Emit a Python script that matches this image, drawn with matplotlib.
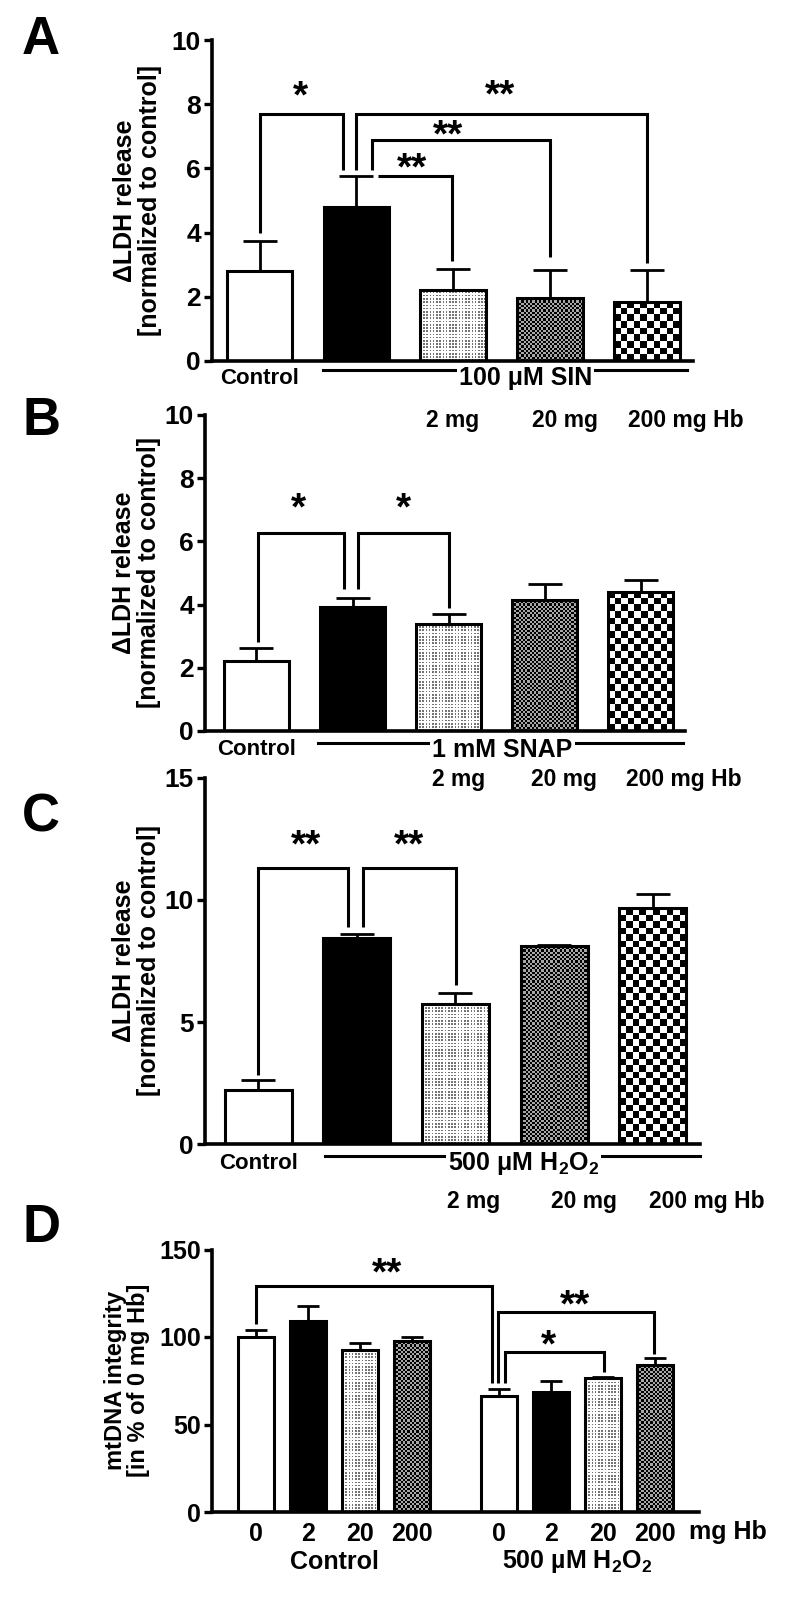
import numpy as np
import matplotlib
matplotlib.use("Agg")
import matplotlib.pyplot as plt

plt.rcParams['font.family'] = ['Liberation Sans', 'DejaVu Sans']
plt.rcParams['font.weight'] = 'bold'
plt.rcParams['mathtext.fontset'] = 'custom'
plt.rcParams['mathtext.rm'] = 'Liberation Sans:bold'
plt.rcParams['mathtext.it'] = 'Liberation Sans:bold'
plt.rcParams['mathtext.bf'] = 'Liberation Sans:bold'

# ---- data ----
ldh_fills = ["white", "black", "light", "dark", "checker"]
dose_labels = ["2 mg", "20 mg", "200 mg Hb"]

a_mean = [2.8, 4.8, 2.2, 1.95, 1.85]
a_sem = [0.95, 0.95, 0.67, 0.88, 0.97]
b_mean = [2.22, 3.92, 3.39, 4.15, 4.4]
b_sem = [0.4, 0.28, 0.31, 0.5, 0.38]
c_mean = [2.21, 8.44, 5.73, 8.12, 9.67]
c_sem = [0.41, 0.16, 0.47, 0.03, 0.57]

d_fills = ["white", "black", "light", "dark"] * 2
d_ticks = ["0", "2", "20", "200", "0", "2", "20", "200"]
d_mean = [100, 109, 92.5, 98, 66.5, 68.5, 76.7, 84]
d_sem = [4, 9, 4, 2, 4, 6.5, 0.6, 3.8]

# significance brackets: (x left, y left, x right, y right, y top, stars, star x, star y)
a_sig = [(0.0, 4.0, 0.86, 5.95, 7.7, "*", 0.42, 8.5),
         (1.0, 5.95, 4.0, 3.05, 7.7, "**", 2.48, 8.55),
         (1.16, 5.95, 3.0, 3.25, 6.9, "**", 1.94, 7.3),
         (1.22, 5.75, 1.98, 3.1, 5.75, "**", 1.57, 6.25)]
b_sig = [(0.02, 2.82, 0.91, 4.5, 6.27, "*", 0.44, 7.3),
         (1.06, 4.5, 2.0, 3.9, 6.27, "*", 1.53, 7.3)]
c_sig = [(0.0, 2.83, 0.91, 8.9, 11.3, "**", 0.48, 12.6),
         (1.06, 8.9, 2.01, 6.5, 11.3, "**", 1.53, 12.6)]
d_sig = [(0.0, 107.4, 4.54, 73.7, 129, "**", 2.52, 141),
         (4.65, 73.7, 7.65, 90.3, 114.3, "**", 6.13, 123),
         (4.79, 73.7, 6.69, 80, 91.4, "*", 5.62, 100)]

W, H = 785, 1598
fig = plt.figure(figsize=(W / 100, H / 100), dpi=100)


def box(x0, x1, ytop, ybot):
    return [x0 / W, 1 - ybot / H, (x1 - x0) / W, (ybot - ytop) / H]


def texture(kind, nx, ny):
    i, j = np.indices((ny, nx))
    if kind == "light":
        return np.where((i % 2 == 0) & (j % 2 == 0), 0.45, 1.0)
    if kind == "dark":
        return np.where((i + j) % 2 == 0, 0.0, 0.66)
    return np.where((i + j) % 2 == 0, 0.0, 1.0)


def draw_bars(ax, x, mean, sem, fills, width, cap):
    face = {"white": "white", "black": "black", "light": "white", "dark": "white", "checker": "white"}
    ax.errorbar(x, mean, yerr=[np.zeros(len(mean)), sem], fmt="none", ecolor="k",
                elinewidth=2, capsize=cap, capthick=2, zorder=1)
    bars = ax.bar(x, mean, width, color=[face[f] for f in fills], linewidth=0, zorder=2)
    sx = ax.transData.transform([(0, 0), (1, 1)])
    pxx, pxy = sx[1] - sx[0]
    cell = {"light": 1.6, "dark": 2.2, "checker": 6.5}
    for b, f, xi, m in zip(bars, fills, x, mean):
        if f in cell:
            nx = max(1, int(round(width * pxx / cell[f])))
            ny = max(1, int(round(m * pxy / cell[f])))
            im = ax.imshow(texture(f, nx, ny), cmap="gray", vmin=0, vmax=1,
                           extent=(xi - width / 2, xi + width / 2, 0, m), origin="lower",
                           aspect="auto", interpolation="nearest", zorder=2.5)
            im.set_clip_path(b)
    ax.bar(x, mean, width, fill=False, edgecolor="k", linewidth=2.2, zorder=3)


def brackets(ax, sig, fs=28):
    for xl, yl, xr, yr, top, s, sx, sy in sig:
        ax.plot([xl, xl, xr, xr], [yl, top, top, yr], color="k", lw=2.2, zorder=4,
                solid_joinstyle="miter", solid_capstyle="butt")
        ax.annotate(s, (sx, sy), xytext=(0, -0.5 * fs), textcoords="offset points",
                    ha="center", va="baseline", fontsize=fs, fontweight="bold")


def style(ax, ylim, yticks, tfs=19):
    ax.patch.set_visible(False)
    ax.set_ylim(*ylim)
    ax.set_yticks(yticks)
    for s in ["top", "right"]:
        ax.spines[s].set_visible(False)
    for s in ["left", "bottom"]:
        ax.spines[s].set_linewidth(2.6)
    ax.tick_params(axis="y", direction="out", length=6, width=2.4, labelsize=tfs, pad=2)
    ax.tick_params(axis="x", length=0)
    ax.set_autoscale_on(False)


def ldh_panel(pos, xlim, ylim, yticks, mean, sem, sig, group, line_y, text_y, line_x, text_x, dose_y, dose_x, lab_x):
    ax = fig.add_axes(pos)
    ax.set_xlim(*xlim)
    style(ax, ylim, yticks)
    ax.set_xticks([])
    x = np.arange(len(mean))
    draw_bars(ax, x, mean, sem, ldh_fills, 0.68, 12)
    brackets(ax, sig)
    tr = ax.get_xaxis_transform()
    ax.text(0, text_y, "Control", transform=tr, ha="center", va="center", fontsize=16)
    ax.plot(line_x, [line_y, line_y], transform=tr, color="k", lw=2.2, clip_on=False)
    ax.text(text_x, text_y, group, transform=tr, ha="center", va="center", fontsize=18,
            bbox=dict(facecolor="white", edgecolor="none", pad=1.5))
    for dx, dl in zip(dose_x, dose_labels):
        ax.text(dx, dose_y, dl, transform=tr, ha="center", va="center", fontsize=16.5)
    ax.set_ylabel("ΔLDH release\n[normalized to control]", fontsize=18, linespacing=1.05,
                  fontweight="bold")
    ax.yaxis.set_label_coords(lab_x, 0.5)
    return ax


ldh_panel(box(212, 693, 40, 361), (-0.49, 4.47), (0, 10), [0, 2, 4, 6, 8, 10],
          a_mean, a_sem, a_sig, "100 μM SIN", -0.028, -0.053, [0.65, 4.41], 2.74,
          -0.184, [1.99, 3.15, 4.4], -0.104)
ldh_panel(box(205, 685, 415, 731), (-0.536, 4.46), (0, 10), [0, 2, 4, 6, 8, 10],
          b_mean, b_sem, b_sig, "1 mM SNAP", -0.038, -0.06, [0.64, 4.44], 2.56,
          -0.155, [2.1, 3.2, 4.45], -0.092)
ldh_panel(box(205, 700, 778, 1144), (-0.54, 4.48), (0, 15), [0, 5, 10, 15],
          c_mean, c_sem, c_sig, r"500 μM H$_2$O$_2$", -0.033, -0.052, [0.68, 4.48], 2.69,
          -0.158, [2.18, 3.3, 4.55], -0.089)

# panel D
axd = fig.add_axes(box(212, 699, 1249.5, 1512))
axd.set_xlim(-0.85, 8.52)
style(axd, (0, 150), [0, 50, 100, 150], tfs=18)
d_pos = [0, 1, 2, 3, 4.68, 5.68, 6.68, 7.68]
draw_bars(axd, d_pos, d_mean, d_sem, d_fills, 0.69, 8)
brackets(axd, d_sig)
axd.set_xticks(d_pos, d_ticks, fontsize=18)
axd.tick_params(axis="x", pad=7)
trd = axd.get_xaxis_transform()
axd.text(9.08, -0.076, "mg Hb", transform=trd, ha="center", va="center", fontsize=18)
axd.text(1.5, -0.19, "Control", transform=trd, ha="center", va="center", fontsize=18)
axd.text(6.18, -0.19, r"500 µM H$_2$O$_2$", transform=trd, ha="center", va="center", fontsize=18)
axd.set_ylabel("mtDNA integrity\n[in % of 0 mg Hb]", fontsize=17, linespacing=1.0,
               fontweight="bold")
axd.yaxis.set_label_coords(-0.127, 0.5)

for letter, yc in zip("ABCD", [40, 421, 818, 1228]):
    fig.text(22 / W, 1 - yc / H, letter, fontsize=38, fontweight="bold", ha="left", va="center")

fig.savefig("out.png", dpi=100)
